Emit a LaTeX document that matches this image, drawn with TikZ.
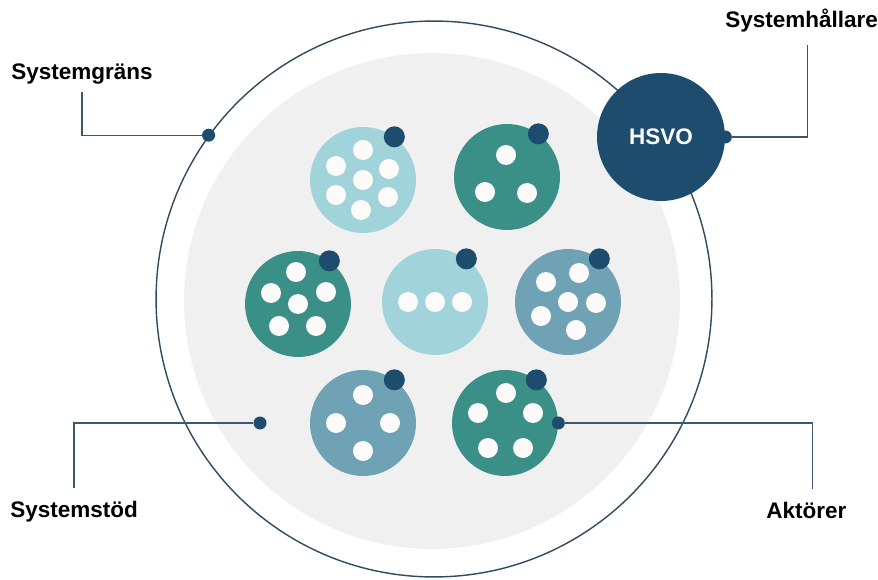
\documentclass[tikz,border=0pt]{standalone}
\usepackage{fontspec}
\setmainfont{Liberation Sans}
\definecolor{aqua}{RGB}{160,212,218}
\definecolor{sea}{RGB}{58,143,134}
\definecolor{steel}{RGB}{111,162,181}
\definecolor{navy}{RGB}{30,76,110}
\definecolor{stodgray}{RGB}{240,240,240}
\definecolor{ringcol}{RGB}{46,75,96}
\definecolor{linecol}{RGB}{61,86,107}
\definecolor{holecol}{RGB}{253,251,249}

\begin{document}
\begin{tikzpicture}[x=0.02cm,y=-0.02cm,
  actor/.style={circle,inner sep=0pt,minimum size=2.12cm},
  marker/.style={circle,fill=navy,inner sep=0pt,minimum size=0.42cm},
  dot/.style={circle,fill=navy,inner sep=0pt,minimum size=0.26cm},
  conn/.style={draw=linecol,line width=0.8pt},
  lbl/.style={font=\fontsize{12.8}{15}\selectfont\bfseries,inner xsep=0pt,inner ysep=7pt}]
\useasboundingbox (0,0) rectangle (878,580);
% System
\node[circle,fill=stodgray,inner sep=0pt,minimum size=9.92cm] (stod) at (432,301) {};
\node[circle,draw=ringcol,line width=0.8pt,inner sep=0pt,minimum size=11.12cm] (grans) at (434,299) {};
% Actors
\node[actor,fill=aqua ] (a1) at (363,180) {};
\node[actor,fill=sea  ] (a2) at (507,177) {};
\node[actor,fill=sea  ] (a3) at (298,304) {};
\node[actor,fill=aqua ] (a4) at (435,302) {};
\node[actor,fill=steel] (a5) at (568,302) {};
\node[actor,fill=steel] (a6) at (363,423) {};
\node[actor,fill=sea  ] (a7) at (505,423) {};
%Holes
\fill[holecol] ([shift={(0,-30)}]a1) circle (0.2cm) ([shift={(-27,-14)}]a1) circle (0.2cm) ([shift={(26,-11)}]a1) circle (0.2cm) (a1) circle (0.2cm) ([shift={(-27,15)}]a1) circle (0.2cm) ([shift={(25,17)}]a1) circle (0.2cm) ([shift={(-2,30)}]a1) circle (0.2cm);
\fill[holecol] ([shift={(-1,-22)}]a2) circle (0.2cm) ([shift={(-22,15)}]a2) circle (0.2cm) ([shift={(20,16)}]a2) circle (0.2cm);
\fill[holecol] ([shift={(-2,-32)}]a3) circle (0.2cm) ([shift={(-27,-11)}]a3) circle (0.2cm) ([shift={(28,-12)}]a3) circle (0.2cm) (a3) circle (0.2cm) ([shift={(-19,22)}]a3) circle (0.2cm) ([shift={(18,22)}]a3) circle (0.2cm);
\fill[holecol] ([shift={(-27,0)}]a4) circle (0.2cm) (a4) circle (0.2cm) ([shift={(27,0)}]a4) circle (0.2cm);
\fill[holecol] ([shift={(-22,-20)}]a5) circle (0.2cm) ([shift={(11,-29)}]a5) circle (0.2cm) ([shift={(28,1)}]a5) circle (0.2cm) (a5) circle (0.2cm) ([shift={(-27,14)}]a5) circle (0.2cm) ([shift={(8,28)}]a5) circle (0.2cm);
\fill[holecol] ([shift={(0,-28)}]a6) circle (0.2cm) ([shift={(-27,0)}]a6) circle (0.2cm) ([shift={(27,0)}]a6) circle (0.2cm) ([shift={(0,28)}]a6) circle (0.2cm);
\fill[holecol] ([shift={(1,-30)}]a7) circle (0.2cm) ([shift={(-27,-10)}]a7) circle (0.2cm) ([shift={(28,-10)}]a7) circle (0.2cm) ([shift={(-17,25)}]a7) circle (0.2cm) ([shift={(18,25)}]a7) circle (0.2cm);
%Markers
\node[marker] (a1m) at (a1.54) {};
\node[marker] (a2m) at (a2.54) {};
\node[marker] (a3m) at (a3.54) {};
\node[marker] (a4m) at (a4.54) {};
\node[marker] (a5m) at (a5.54) {};
\node[marker] (a6m) at (a6.54) {};
\node[marker] (a7m) at (a7.54) {};
% Holder
\node[circle,fill=navy,inner sep=0pt,minimum size=2.56cm,text=white,
  font=\fontsize{12.8}{15}\selectfont\bfseries] (hsvo) at (661,137) {HSVO};
%Dots
\node[dot] (gransdot) at (grans.144) {};
\node[dot] (stoddot) at (260,423) {};
\node[dot] (aktdot) at (a7.east) {};
\node[dot] (hsvodot) at (hsvo.east) {};
%Labels
\node[lbl,anchor=base west,inner ysep=4pt] (granslbl) at (11,80) {Systemgräns};
\node[lbl,anchor=base west] (hallarelbl) at (725,28) {Systemhållare};
\node[lbl,anchor=base west] (stodlbl) at (10,517) {Systemstöd};
\node[lbl,anchor=base west] (aktlbl) at (766,518) {Aktörer};
%Connectors
\draw[conn] (gransdot) -| (granslbl);
\draw[conn] (hsvodot) -| ([xshift=0.12cm]hallarelbl.south);
\draw[conn] (stoddot) -| (stodlbl);
\draw[conn] (aktdot) -| ([xshift=0.12cm]aktlbl.north);
\end{tikzpicture}
\end{document}
